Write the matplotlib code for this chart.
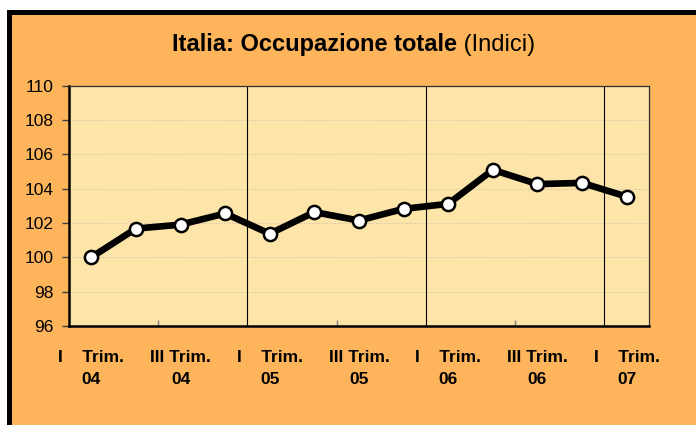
import matplotlib
matplotlib.use('Agg')
import matplotlib.pyplot as plt
from matplotlib.patches import Rectangle

# trimestri dal I trim. 2004 al I trim. 2007
occupazione = [100.0, 101.67, 101.9, 102.55, 101.37, 102.63, 102.14,
               102.82, 103.11, 105.09, 104.26, 104.33, 103.53]
etichette = ['I    Trim.\n04', 'III Trim.\n04', 'I    Trim.\n05', 'III Trim.\n05',
             'I    Trim.\n06', 'III Trim.\n06', 'I    Trim.\n07']
y_ticks = [96, 98, 100, 102, 104, 106, 108, 110]

plt.rcParams['font.family'] = ['Liberation Sans', 'DejaVu Sans']

W, H = 696, 425
fig = plt.figure(figsize=(W / 100, H / 100), dpi=100, facecolor='white')

# cornice: bordo nero a sinistra/in alto, fondo arancio
fig.patches.append(Rectangle((7 / W, 0), 1, 1 - 10 / H, transform=fig.transFigure,
                             facecolor='black', edgecolor='none', zorder=-10))
fig.patches.append(Rectangle((12 / W, 0), 1, 1 - 15 / H, transform=fig.transFigure,
                             facecolor='#FDB45A', edgecolor='none', zorder=-9))

ax = fig.add_axes([69 / W, (H - 326) / H, (649 - 69) / W, (326 - 85.5) / H])
ax.set_zorder(1)
ax.set_facecolor('#FDE4A8')

x = list(range(len(occupazione)))
ax.plot(x, occupazione, color='black', lw=4.8, marker='o', ms=9.5,
        mfc='white', mec='black', mew=1.8, zorder=5)

ax.set_xlim(-0.5, len(occupazione) - 0.5)
ax.set_ylim(96, 110)
ax.set_yticks(y_ticks)
ax.set_yticklabels([str(v) for v in y_ticks], fontsize=12.5)
ax.tick_params(axis='y', direction='out', length=5, width=1, color='#404040', pad=6)

ax.set_xticks(x[::2])
ax.set_xticklabels(etichette, fontsize=12.5, fontweight='bold', linespacing=1.65)
ax.tick_params(axis='x', length=0, pad=17)
ax.set_xticks([1.5, 5.5, 9.5], minor=True)
ax.tick_params(axis='x', which='minor', direction='in', length=4, width=1, color='#808080')

for v in y_ticks[1:-1]:
    ax.axhline(v, color='#C8C0B0', lw=0.7, ls=':', zorder=1)
for xv in [3.5, 7.5, 11.5]:
    ax.axvline(xv, color='black', lw=0.8, zorder=2)

ax.spines['left'].set_linewidth(1.8)
ax.spines['bottom'].set_linewidth(1.8)
ax.spines['top'].set_linewidth(0.9)
ax.spines['right'].set_linewidth(0.9)
ax.spines['top'].set_color('#303030')
ax.spines['right'].set_color('#303030')

# titolo: parte in grassetto + parte normale, centrato
ty = 1 - 45 / H
t1 = fig.text(0, ty, 'Italia: Occupazione totale', fontsize=17, fontweight='bold', va='center')
t2 = fig.text(0, ty, ' (Indici)', fontsize=17, va='center')
r = fig.canvas.get_renderer()
w1 = t1.get_window_extent(r).width
w2 = t2.get_window_extent(r).width
x0 = 354 - (w1 + w2) / 2
t1.set_x(x0 / W)
t2.set_x((x0 + w1) / W)

fig.savefig('out.png', dpi=100, facecolor='white')
